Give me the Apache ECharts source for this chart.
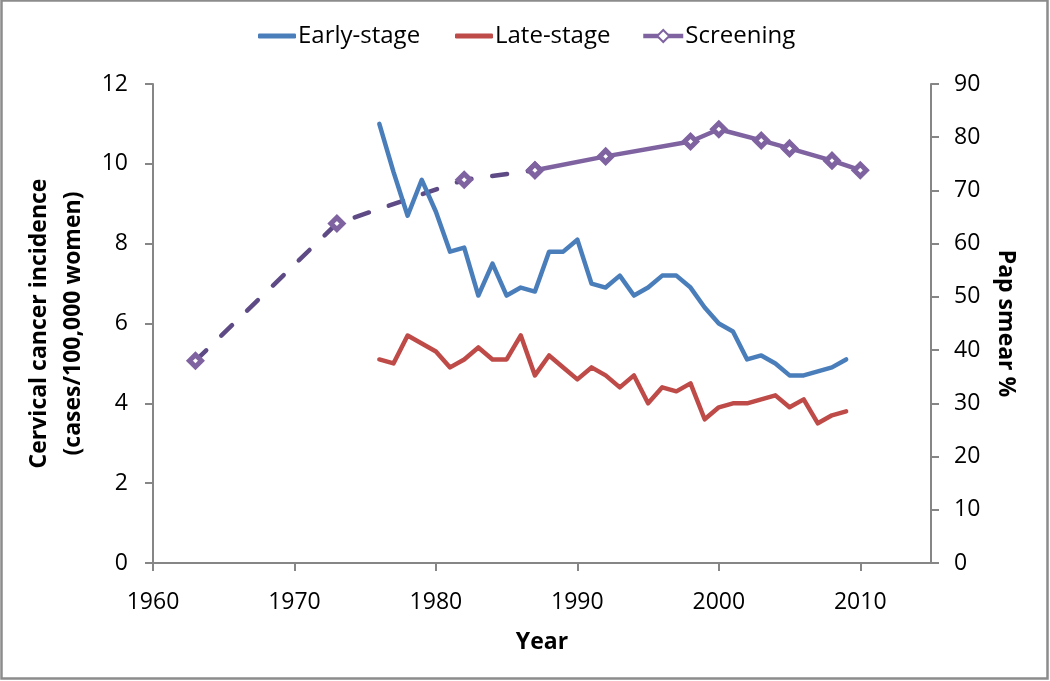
<!DOCTYPE html>
<html>
<head>
<meta charset="utf-8">
<script src="https://cdn.jsdelivr.net/npm/echarts@6/dist/echarts.min.js"></script>
<style>
html,body{margin:0;padding:0;background:#fff;}
#chart{width:1050px;height:681px;}
</style>
</head>
<body>
<div id="chart"></div>
<script>
// ---- data ----
const incidenceYears = [1976,1977,1978,1979,1980,1981,1982,1983,1984,1985,1986,1987,1988,1989,1990,1991,1992,1993,1994,1995,1996,1997,1998,1999,2000,2001,2002,2003,2004,2005,2006,2007,2008,2009];
const earlyStage = [11.0,9.8,8.7,9.6,8.8,7.8,7.9,6.7,7.5,6.7,6.9,6.8,7.8,7.8,8.1,7.0,6.9,7.2,6.7,6.9,7.2,7.2,6.9,6.4,6.0,5.8,5.1,5.2,5.0,4.7,4.7,4.8,4.9,5.1];
const lateStage  = [5.1,5.0,5.7,5.5,5.3,4.9,5.1,5.4,5.1,5.1,5.7,4.7,5.2,4.9,4.6,4.9,4.7,4.4,4.7,4.0,4.4,4.3,4.5,3.6,3.9,4.0,4.0,4.1,4.2,3.9,4.1,3.5,3.7,3.8];
const screeningYears = [1963,1973,1982,1987,1992,1998,2000,2003,2005,2008,2010];
const screeningPct   = [38.0,63.8,72.0,73.8,76.4,79.2,81.5,79.4,77.9,75.6,73.8];
const dashedUntil = 1987; // screening line is dashed up to this year
const xTickLabels = [1960,1970,1980,1990,2000,2010];

// ---- build ----
const pairs = (xs, ys) => xs.map((x, i) => [x, ys[i]]);
const screenAll = pairs(screeningYears, screeningPct);
const screenDashed = screenAll.filter(p => p[0] <= dashedUntil);
const screenSolid = screenAll.filter(p => p[0] >= dashedUntil);

const FONT = '"Open Sans", "Liberation Sans", sans-serif';
const AXIS_COLOR = '#868686';
const lblStyle = {color: '#000', fontFamily: FONT, fontSize: 23};
const nameStyle = {color: '#000', fontFamily: FONT, fontSize: 23, fontWeight: 'bold'};
const legendText = {color: '#000', fontFamily: FONT, fontSize: 24, padding: [0,0,0,-3]};

const chart = echarts.init(document.getElementById('chart'), null, {renderer: 'canvas'});
chart.setOption({
  animation: false,
  backgroundColor: '#fff',
  graphic: [{
    type: 'rect', silent: true,
    shape: {x: 1.5, y: 0.5, width: 1046, height: 678},
    style: {fill: 'none', stroke: '#8c8c8c', lineWidth: 2.5}
  }],
  legend: [{
    data: ['Early-stage'], left: 253, top: 19,
    icon: 'roundRect', itemWidth: 38, itemHeight: 5,
    textStyle: legendText
  }, {
    data: ['Late-stage'], left: 450, top: 19,
    icon: 'roundRect', itemWidth: 38, itemHeight: 5,
    textStyle: legendText
  }, {
    data: ['Screening'], left: 636, top: 19,
    itemWidth: 40, itemHeight: 15,
    lineStyle: {width: 4.5},
    textStyle: legendText
  }],
  grid: {left: 153, right: 119, top: 84, bottom: 118, containLabel: false},
  xAxis: {
    type: 'value', min: 1960, max: 2015, interval: 10,
    name: 'Year', nameLocation: 'middle', nameGap: 68, nameTextStyle: nameStyle,
    axisLine: {show: true, onZero: false, lineStyle: {color: AXIS_COLOR, width: 2}},
    axisTick: {show: true, length: 8, customValues: xTickLabels, lineStyle: {color: AXIS_COLOR, width: 2}},
    axisLabel: Object.assign({margin: 28, customValues: xTickLabels, formatter: v => String(v)}, lblStyle),
    splitLine: {show: false}
  },
  yAxis: [{
    type: 'value', min: 0, max: 12, interval: 2, position: 'left',
    name: 'Cervical cancer incidence\n(cases/100,000 women)', nameLocation: 'middle', nameRotate: 90, nameGap: 52,
    nameTextStyle: Object.assign({lineHeight: 34}, nameStyle),
    axisLine: {show: true, lineStyle: {color: AXIS_COLOR, width: 2}},
    axisTick: {show: true, length: 8, lineStyle: {color: AXIS_COLOR, width: 2}},
    axisLabel: Object.assign({margin: 25}, lblStyle),
    splitLine: {show: false}
  }, {
    type: 'value', min: 0, max: 90, interval: 10, position: 'right',
    name: 'Pap smear %', nameLocation: 'middle', nameRotate: -90, nameGap: 63,
    nameTextStyle: nameStyle,
    axisLine: {show: true, lineStyle: {color: AXIS_COLOR, width: 2}},
    axisTick: {show: true, length: 8, lineStyle: {color: AXIS_COLOR, width: 2}},
    axisLabel: Object.assign({margin: 23}, lblStyle),
    splitLine: {show: false}
  }],
  series: [{
    name: 'Early-stage', type: 'line', yAxisIndex: 0,
    data: pairs(incidenceYears, earlyStage),
    symbol: 'none', color: '#4a7ebb',
    lineStyle: {width: 4.5, color: '#4a7ebb', join: 'round', cap: 'round'}
  }, {
    name: 'Late-stage', type: 'line', yAxisIndex: 0,
    data: pairs(incidenceYears, lateStage),
    symbol: 'none', color: '#be4b48',
    lineStyle: {width: 4.5, color: '#be4b48', join: 'round', cap: 'round'}
  }, {
    name: 'Screening (early years)', type: 'line', yAxisIndex: 1,
    data: screenDashed, z: 2,
    symbol: 'diamond', symbolSize: 12, showAllSymbol: true,
    itemStyle: {color: '#fff', borderColor: '#7f63a1', borderWidth: 5},
    lineStyle: {width: 4.5, color: '#5e4a85', type: [15, 21], cap: 'round'}
  }, {
    name: 'Screening', type: 'line', yAxisIndex: 1,
    data: screenSolid, z: 3,
    symbol: 'diamond', symbolSize: 12, showAllSymbol: true,
    color: '#7f63a1',
    itemStyle: {color: '#fff', borderColor: '#7f63a1', borderWidth: 5},
    lineStyle: {width: 4.5, color: '#7f63a1', join: 'round'}
  }]
});
</script>
</body>
</html>
